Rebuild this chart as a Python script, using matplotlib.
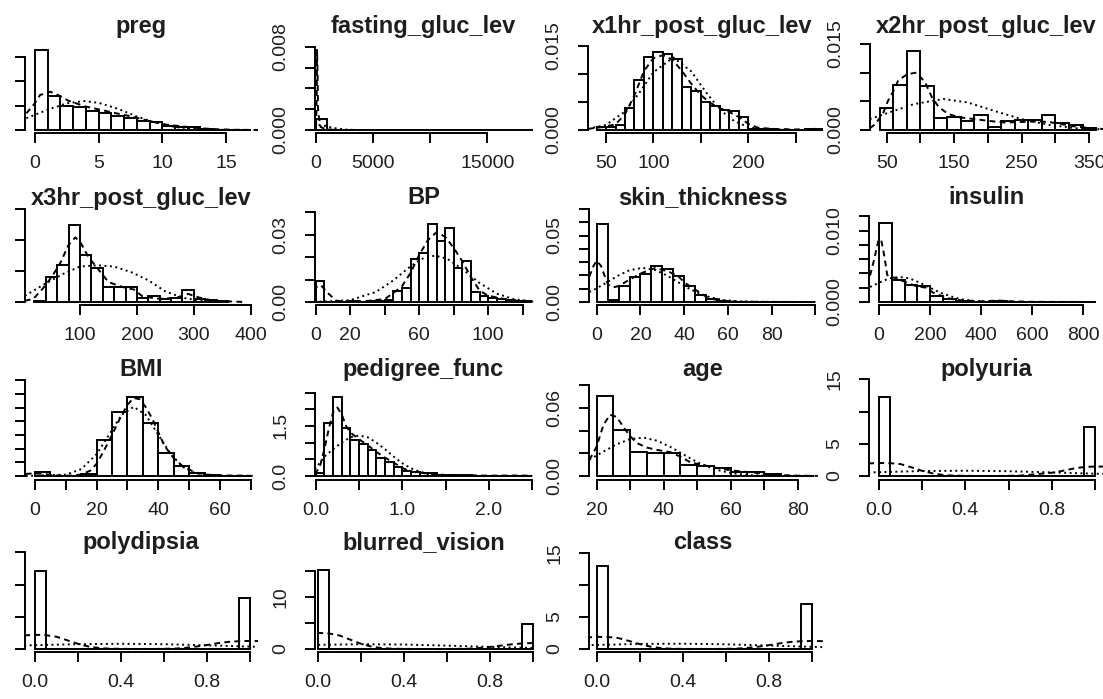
import numpy as np
import matplotlib.pyplot as plt

plt.rcParams['font.family'] = ['Liberation Sans', 'DejaVu Sans']

titles = ['preg', 'fasting_gluc_lev', 'x1hr_post_gluc_lev', 'x2hr_post_gluc_lev',
          'x3hr_post_gluc_lev', 'BP', 'skin_thickness', 'insulin',
          'BMI', 'pedigree_func', 'age', 'polyuria',
          'polydipsia', 'blurred_vision', 'class']

# histogram bars (density scale): first break, bin width, heights
preg_bins = (0, 1)
preg_hist = [0.326, 0.14, 0.098, 0.093, 0.078, 0.07, 0.059, 0.049, 0.036, 0.031,
             0.0143, 0.012, 0.013, 0.0026, 0.0013, 0, 0.0013]
fasting_bins = (0, 1000)
fasting_hist = [0.0011, 0.00003] + [0] * 17
x1hr_bins = (40, 10)
x1hr_hist = [0.0005, 0.0006, 0.0009, 0.004, 0.0089, 0.013, 0.0139, 0.0135, 0.0126, 0.0076,
             0.0069, 0.005, 0.0043, 0.0035, 0.0034, 0.0024, 0.0002, 0.0002, 0.0001, 0,
             0, 0, 0.0002, 0.0001]
x2hr_bins = (40, 20)
x2hr_hist = [0.0038, 0.0078, 0.0138, 0.0076, 0.0021, 0.0023, 0.0015, 0.0026, 0.0006, 0.0015,
             0.0017, 0.0017, 0.0026, 0.0013, 0.0009, 0.0003]
x3hr_bins = (20, 20)
x3hr_hist = [0.0001, 0.004, 0.006, 0.0124, 0.0075, 0.0054, 0.0024, 0.0024, 0.0024, 0.0006,
             0.0009, 0.0005, 0.0006, 0.002, 0.0005, 0.0003, 0.0002]
bp_bins = (0, 5)
bp_hist = [0.0092, 0, 0, 0, 0.0003, 0, 0.0005, 0.0003, 0.001, 0.005, 0.0062, 0.0191, 0.0218,
           0.0347, 0.0273, 0.0329, 0.0151, 0.0181, 0.0043, 0.0028, 0.0016, 0.0013, 0.0008,
           0.0003, 0.0005]
skin_bins = (0, 5)
skin_hist = [0.0587, 0.0018, 0.0117, 0.0187, 0.021, 0.0267, 0.0248, 0.0193, 0.0117, 0.0055,
             0.0022, 0.0008, 0, 0, 0, 0, 0, 0, 0, 0.0003]
insulin_bins = (0, 50)
insulin_hist = [0.011, 0.0031, 0.0024, 0.0022, 0.0009, 0.0004, 0.0002, 0, 0, 0.0002,
                0, 0, 0, 0, 0, 0, 0.00005]
bmi_bins = (0, 5)
bmi_hist = [0.0029, 0, 0, 0.0013, 0.0263, 0.047, 0.058, 0.039, 0.0166, 0.0073, 0.002, 0.0008,
            0, 0.0003]
pedigree_bins = (0, 0.1)
pedigree_hist = [0.1, 1.6, 2.36, 1.43, 1.08, 0.96, 0.78, 0.53, 0.43, 0.28, 0.15, 0.11, 0.08,
                 0.08, 0.03, 0.02, 0.03, 0.02, 0.01, 0, 0, 0.013, 0.013, 0.013, 0.013]
age_bins = (20, 5)
age_hist = [0.0705, 0.0405, 0.0214, 0.0206, 0.0206, 0.0097, 0.0088, 0.0068, 0.0038, 0.0035,
            0.0014, 0.0003, 0.0003]
polyuria_bins = (0, 0.05)
polyuria_hist = [12.2] + [0] * 18 + [7.56]
polydipsia_bins = (0, 0.05)
polydipsia_hist = [12.1] + [0] * 18 + [7.9]
blurred_bins = (0, 0.05)
blurred_hist = [15.2] + [0] * 18 + [4.8]
class_bins = (0, 0.05)
class_hist = [13.0] + [0] * 18 + [7.0]

# kernel density (dashed)
preg_dens = [(-0.68, 0.068), (0.0, 0.11), (0.4, 0.143), (1.2, 0.156), (2.0, 0.138), (2.6, 0.12),
             (3.9, 0.097), (5.1, 0.083), (6.4, 0.068), (7.7, 0.054), (9.0, 0.036), (10.3, 0.022),
             (11.7, 0.014), (13.0, 0.007), (14.3, 0.003), (15.6, 0.001), (17.7, 0.0)]
fasting_dens = [(-700, 0.0), (0, 0.0002), (60, 0.003), (90, 0.0077), (130, 0.006), (180, 0.002),
                (260, 0.0012), (400, 0.0003), (800, 0.0001), (1500, 0.00002), (2500, 0.0)]
x1hr_dens = [(31, 0.0002), (45, 0.0005), (60, 0.001), (70, 0.0028), (80, 0.0062), (90, 0.0105),
             (100, 0.0128), (110, 0.0133), (120, 0.0125), (130, 0.0105), (140, 0.0082),
             (150, 0.0062), (160, 0.0048), (170, 0.0039), (180, 0.0032), (190, 0.0023),
             (200, 0.0011), (210, 0.0004), (225, 0.0002), (250, 0.0001), (270, 0.0002), (285, 0.0001)]
x2hr_dens = [(25, 0.0003), (33, 0.001), (45, 0.003), (52, 0.0051), (60, 0.0068), (67, 0.0086),
             (80, 0.0097), (94, 0.01), (107, 0.0083), (117, 0.0057), (127, 0.004), (141, 0.0028),
             (158, 0.0022), (180, 0.0019), (200, 0.0016), (225, 0.0013), (250, 0.0014),
             (272, 0.0015), (290, 0.0014), (310, 0.001), (330, 0.0006), (355, 0.0003), (380, 0.0001)]
x3hr_dens = [(3, 0.0002), (18, 0.0005), (35, 0.0022), (50, 0.004), (65, 0.0062), (80, 0.0092),
             (92, 0.0104), (102, 0.0094), (115, 0.0072), (130, 0.0055), (150, 0.0032),
             (175, 0.0024), (195, 0.002), (210, 0.0009), (240, 0.0005), (270, 0.0007),
             (290, 0.0013), (310, 0.0007), (335, 0.0002), (360, 0.0001), (390, 0.0)]
bp_dens = [(-1, 0.005), (0, 0.0065), (3, 0.0075), (7, 0.004), (12, 0.0005), (20, 0.0002),
           (30, 0.0005), (40, 0.0013), (45, 0.004), (50, 0.007), (55, 0.013), (60, 0.021),
           (65, 0.0275), (70, 0.031), (75, 0.029), (80, 0.024), (85, 0.018), (90, 0.011),
           (95, 0.005), (100, 0.0028), (110, 0.0012), (120, 0.0005), (126, 0.0002)]
skin_dens = [(-3.4, 0.019), (-1.5, 0.027), (0, 0.031), (2, 0.027), (4, 0.018), (5.3, 0.013),
             (7.6, 0.011), (10, 0.012), (15, 0.0168), (20.6, 0.0218), (26.7, 0.0255),
             (32.7, 0.023), (37.3, 0.0193), (40.4, 0.0143), (45, 0.0093), (51, 0.003),
             (56, 0.0012), (60, 0.0006), (66, 0.0002), (75, 0.0001), (100, 0.0)]
insulin_dens = [(-35, 0.0037), (-20, 0.0058), (-3, 0.0085), (8, 0.0088), (21, 0.0064),
                (32, 0.0038), (45, 0.0034), (63, 0.0034), (95, 0.0029), (147, 0.0022),
                (186, 0.002), (212, 0.0013), (264, 0.0006), (300, 0.0003), (343, 0.0002),
                (400, 0.0001), (470, 0.0002), (520, 0.0001), (600, 0.00003), (850, 0.0)]
bmi_dens = [(-3, 0.0015), (0, 0.002), (3, 0.0015), (6, 0.0005), (10, 0.0001), (15, 0.001),
            (18, 0.004), (20, 0.009), (22, 0.017), (25, 0.03), (28, 0.044), (30, 0.052),
            (32, 0.057), (34, 0.056), (36, 0.05), (38, 0.042), (40, 0.032), (42, 0.022),
            (45, 0.013), (48, 0.007), (52, 0.0025), (56, 0.001), (60, 0.0004), (67, 0.0003), (72, 0.0)]
pedigree_dens = [(-0.01, 0.05), (0.05, 0.3), (0.1, 0.8), (0.15, 1.4), (0.2, 1.9), (0.25, 2.05),
                 (0.3, 1.85), (0.35, 1.5), (0.4, 1.3), (0.5, 1.1), (0.6, 0.92), (0.7, 0.72),
                 (0.8, 0.55), (0.9, 0.4), (1.0, 0.24), (1.1, 0.13), (1.2, 0.1), (1.3, 0.07),
                 (1.5, 0.03), (1.8, 0.02), (2.0, 0.01), (2.3, 0.015), (2.5, 0.01)]
age_dens = [(17.8, 0.014), (20, 0.026), (22, 0.045), (24, 0.054), (26, 0.052), (28, 0.043),
            (30, 0.035), (32, 0.029), (35, 0.025), (38, 0.023), (42, 0.021), (45, 0.017),
            (48, 0.012), (52, 0.0095), (56, 0.007), (60, 0.005), (65, 0.0035), (70, 0.002),
            (75, 0.0008), (80, 0.0003), (86, 0.0001)]
polyuria_dens = [(-0.05, 1.95), (0.0, 2.02), (0.05, 2.0), (0.1, 1.85), (0.15, 1.35), (0.2, 0.8),
                 (0.25, 0.4), (0.3, 0.15), (0.35, 0.05), (0.45, 0.01), (0.55, 0.01), (0.65, 0.06),
                 (0.7, 0.2), (0.75, 0.35), (0.8, 0.5), (0.85, 0.8), (0.9, 1.15), (0.95, 1.4),
                 (1.0, 1.47), (1.06, 1.45)]
polydipsia_dens = [(-0.05, 2.1), (0.0, 2.2), (0.05, 2.15), (0.1, 1.9), (0.15, 1.35), (0.2, 0.8),
                   (0.25, 0.38), (0.3, 0.14), (0.35, 0.05), (0.45, 0.01), (0.55, 0.01),
                   (0.65, 0.06), (0.7, 0.18), (0.75, 0.38), (0.8, 0.62), (0.85, 0.9),
                   (0.9, 1.1), (0.95, 1.22), (1.0, 1.25), (1.06, 1.22)]
blurred_dens = [(-0.05, 2.9), (0.0, 3.1), (0.05, 3.0), (0.1, 2.6), (0.15, 1.8), (0.2, 1.0),
                (0.25, 0.45), (0.3, 0.16), (0.35, 0.05), (0.45, 0.01), (0.6, 0.01), (0.7, 0.06),
                (0.75, 0.2), (0.8, 0.4), (0.85, 0.65), (0.9, 0.9), (0.95, 1.08), (1.0, 1.15),
                (1.06, 1.12)]
class_dens = [(-0.05, 1.8), (0.0, 1.9), (0.05, 1.88), (0.1, 1.7), (0.15, 1.25), (0.2, 0.75),
              (0.25, 0.36), (0.3, 0.13), (0.35, 0.04), (0.45, 0.01), (0.55, 0.01), (0.65, 0.06),
              (0.7, 0.18), (0.75, 0.36), (0.8, 0.6), (0.85, 0.88), (0.9, 1.1), (0.95, 1.22),
              (1.0, 1.25), (1.06, 1.22)]

# normal curve (dotted)
preg_norm = [(-0.68, 0.048), (1.0, 0.083), (2.5, 0.109), (3.85, 0.118), (5.0, 0.111), (6.5, 0.087),
             (8.0, 0.055), (9.5, 0.029), (11.0, 0.012), (12.5, 0.0044), (14.0, 0.0012),
             (15.5, 0.0003), (17.7, 0.0)]
fasting_norm = [(-700, 0.0003), (0, 0.0005), (150, 0.0005), (800, 0.0004), (1500, 0.0002),
                (2500, 0.00005), (3500, 0.0)]
x1hr_norm = [(31, 0.0002), (50, 0.0009), (70, 0.0033), (85, 0.0066), (100, 0.0103), (121, 0.0129),
             (140, 0.0104), (155, 0.0068), (170, 0.0036), (185, 0.0016), (200, 0.0005),
             (220, 0.0001), (250, 0.0)]
x2hr_norm = [(25, 0.0019), (60, 0.0033), (90, 0.0045), (134, 0.0054), (170, 0.0048),
             (210, 0.0033), (250, 0.0019), (290, 0.0009), (330, 0.0003), (370, 0.0001)]
x3hr_norm = [(3, 0.001), (40, 0.003), (70, 0.0045), (100, 0.0057), (130, 0.0059), (160, 0.0057),
             (190, 0.0048), (220, 0.0035), (250, 0.0017), (280, 0.0007), (310, 0.0002), (350, 0.0)]
bp_norm = [(-1, 0.00004), (20, 0.0008), (35, 0.0045), (45, 0.0096), (55, 0.0159), (62, 0.0193),
           (69, 0.0206), (76, 0.0193), (85, 0.0146), (95, 0.0084), (105, 0.0037), (115, 0.0012),
           (126, 0.0003)]
skin_norm = [(-3.4, 0.0075), (0, 0.0103), (5, 0.0151), (10, 0.02), (15, 0.0239), (21, 0.0257),
             (27, 0.0239), (32, 0.02), (37, 0.0151), (42, 0.0103), (47, 0.0063), (52, 0.0035),
             (58, 0.0015), (65, 0.0005), (75, 0.0001), (90, 0.0)]
insulin_norm = [(-35, 0.0021), (0, 0.0027), (40, 0.0033), (80, 0.0035), (120, 0.0033),
                (160, 0.0027), (200, 0.002), (240, 0.0013), (280, 0.0008), (320, 0.0004),
                (380, 0.0001), (450, 0.0)]
bmi_norm = [(-3, 0.0), (10, 0.001), (15, 0.005), (20, 0.016), (24, 0.03), (28, 0.0444),
            (32, 0.0505), (36, 0.0444), (40, 0.03), (44, 0.016), (48, 0.0065), (52, 0.002),
            (56, 0.0005), (62, 0.0)]
pedigree_norm = [(-0.01, 0.2), (0.1, 0.58), (0.2, 0.8), (0.3, 1.0), (0.4, 1.16), (0.5, 1.21),
                 (0.6, 1.16), (0.7, 1.0), (0.8, 0.8), (0.9, 0.58), (1.0, 0.38), (1.1, 0.23),
                 (1.2, 0.13), (1.3, 0.064), (1.5, 0.012), (1.7, 0.002), (2.0, 0.0)]
age_norm = [(17.8, 0.0145), (22, 0.0215), (26, 0.028), (30, 0.0326), (34, 0.0338), (38, 0.0311),
            (42, 0.0256), (46, 0.0188), (50, 0.0122), (55, 0.006), (60, 0.0026), (65, 0.0009),
            (70, 0.0003), (76, 0.0)]
polyuria_norm = [(-0.05, 0.55), (0.2, 0.77), (0.4, 0.82), (0.6, 0.74), (0.8, 0.56), (1.06, 0.3)]
polydipsia_norm = [(-0.05, 0.55), (0.2, 0.75), (0.4, 0.81), (0.6, 0.74), (0.8, 0.57), (1.06, 0.32)]
blurred_norm = [(-0.05, 0.77), (0.2, 0.92), (0.4, 0.86), (0.6, 0.65), (0.8, 0.4), (1.06, 0.15)]
class_norm = [(-0.05, 0.6), (0.2, 0.79), (0.4, 0.83), (0.6, 0.73), (0.8, 0.54), (1.06, 0.28)]

# axis ticks and which labels are printed
x_ticks = [[0, 5, 10, 15], [0, 5000, 10000, 15000], [50, 100, 150, 200, 250],
           [50, 100, 150, 200, 250, 300, 350],
           [100, 200, 300, 400], [0, 20, 40, 60, 80, 100, 120], [0, 20, 40, 60, 80, 100],
           [0, 200, 400, 600, 800],
           [0, 10, 20, 30, 40, 50, 60, 70], [0, 0.5, 1.0, 1.5, 2.0, 2.5],
           [20, 30, 40, 50, 60, 70, 80], [0, 0.2, 0.4, 0.6, 0.8, 1.0],
           [0, 0.2, 0.4, 0.6, 0.8, 1.0], [0, 0.2, 0.4, 0.6, 0.8, 1.0], [0, 0.2, 0.4, 0.6, 0.8, 1.0]]
x_labels = [['0', '5', '10', '15'], ['0', '5000', '', '15000'], ['50', '100', '', '200', ''],
            ['50', '', '150', '', '250', '', '350'],
            ['100', '200', '300', '400'], ['0', '20', '', '60', '', '100', ''],
            ['0', '20', '40', '60', '80', ''], ['0', '200', '400', '600', '800'],
            ['0', '', '20', '', '40', '', '60', ''], ['0.0', '', '1.0', '', '2.0', ''],
            ['20', '', '40', '', '60', '', '80'], ['0.0', '', '0.4', '', '0.8', ''],
            ['0.0', '', '0.4', '', '0.8', ''], ['0.0', '', '0.4', '', '0.8', ''],
            ['0.0', '', '0.4', '', '0.8', '']]
y_ticks = [[0, 0.1, 0.2, 0.3], [0, 0.002, 0.004, 0.006, 0.008], [0, 0.005, 0.01, 0.015],
           [0, 0.005, 0.01, 0.015],
           [0, 0.005, 0.01, 0.015], [0, 0.01, 0.02, 0.03, 0.04],
           [0, 0.01, 0.02, 0.03, 0.04, 0.05, 0.06, 0.07],
           [0, 0.002, 0.004, 0.006, 0.008, 0.01, 0.012],
           [0, 0.01, 0.02, 0.03, 0.04, 0.05, 0.06, 0.07], [0, 0.5, 1.0, 1.5, 2.0, 2.5],
           [0, 0.02, 0.04, 0.06, 0.08], [0, 5, 10, 15],
           [0, 5, 10, 15], [0, 5, 10, 15], [0, 5, 10, 15]]
y_labels = [['', '', '', ''], ['0.000', '', '', '', '0.008'], ['0.000', '', '', '0.015'],
            ['0.000', '', '', '0.015'],
            ['', '', '', ''], ['0.00', '', '', '0.03', ''],
            ['0.00', '', '', '', '', '0.05', '', ''],
            ['0.000', '', '', '', '', '0.010', ''],
            [''] * 8, ['0.0', '', '', '1.5', '', ''],
            ['0.00', '', '', '0.06', ''], ['0', '5', '', '15'],
            ['', '', '', ''], ['0', '', '10', ''], ['0', '5', '', '15']]

hists = [preg_hist, fasting_hist, x1hr_hist, x2hr_hist, x3hr_hist, bp_hist, skin_hist,
         insulin_hist, bmi_hist, pedigree_hist, age_hist, polyuria_hist, polydipsia_hist,
         blurred_hist, class_hist]
bins = [preg_bins, fasting_bins, x1hr_bins, x2hr_bins, x3hr_bins, bp_bins, skin_bins,
        insulin_bins, bmi_bins, pedigree_bins, age_bins, polyuria_bins, polydipsia_bins,
        blurred_bins, class_bins]
dens = [preg_dens, fasting_dens, x1hr_dens, x2hr_dens, x3hr_dens, bp_dens, skin_dens,
        insulin_dens, bmi_dens, pedigree_dens, age_dens, polyuria_dens, polydipsia_dens,
        blurred_dens, class_dens]
norms = [preg_norm, fasting_norm, x1hr_norm, x2hr_norm, x3hr_norm, bp_norm, skin_norm,
         insulin_norm, bmi_norm, pedigree_norm, age_norm, polyuria_norm, polydipsia_norm,
         blurred_norm, class_norm]

# ---- layout in pixels ----
W, H = 1103, 699
# per panel: y-axis x, right edge, pixel of x=0, px per x unit, px per y unit
layout = [(25, 258, 35, 12.73, 245), (315, 535, 316, 0.01142, 10400),
          (588, 823, 558.6, 0.9487, 5620), (870, 1103, 852.9, 0.6753, 5740),
          (25, 258, 23.1, 0.5689, 6220), (315, 535, 315.7, 1.726, 2250),
          (589, 823, 596.7, 2.1875, 1330), (869, 1103, 879, 0.2554, 7150),
          (25, 258, 35, 3.083, 1370), (315, 535, 315.7, 86.65, 33.4),
          (589, 823, 529.7, 3.35, 1135), (869, 1103, 879, 215.9, 6.44),
          (25, 258, 35, 215.0, 6.45), (315, 535, 318, 215.0, 5.2),
          (589, 823, 597, 215.0, 6.4)]
# per row: baseline (y=0), plot top, gap to x axis, title baseline
rows = [(130, 42, 3, 32.5), (302, 206, 3, 204.5), (476, 377, 4, 376), (649, 550, 3, 549)]
title_x = [141, 423.5, 702.5, 986]

fig = plt.figure(figsize=(W / 100, H / 100), dpi=100)
ink = '#1e1e1e'

for i, name in enumerate(titles):
    L, R, x0, kx, ky = layout[i]
    base, top, gap, tbase = rows[i // 4]
    bottom = base + gap
    ax = fig.add_axes([L / W, 1 - bottom / H, (R - L) / W, (bottom - top) / H])
    ax.set_xlim((L - x0) / kx, (R - x0) / kx)
    ax.set_ylim(-gap / ky, (base - top) / ky)
    ax.patch.set_alpha(0)

    start, width = bins[i]
    h = hists[i]
    edges = start + width * np.arange(len(h))
    ax.bar(edges, h, width=width, align='edge', facecolor='white',
           edgecolor='black', linewidth=1.4)
    dx, dy = zip(*dens[i])
    ax.plot(dx, dy, color='black', lw=1.4, ls=(0, (3, 2.2)))
    nx, ny = zip(*norms[i])
    ax.plot(nx, ny, color='black', lw=1.4, ls=(0, (1, 1.8)))

    for s in ['top', 'right']:
        ax.spines[s].set_visible(False)
    ax.spines['left'].set_bounds(y_ticks[i][0], y_ticks[i][-1])
    ax.spines['bottom'].set_bounds(x_ticks[i][0], x_ticks[i][-1])
    for s in ['left', 'bottom']:
        ax.spines[s].set_linewidth(1.4)
        ax.spines[s].set_color('black')
    ax.set_xticks(x_ticks[i], x_labels[i])
    ax.set_yticks(y_ticks[i], y_labels[i])
    ax.tick_params(axis='both', direction='out', length=7.5, width=1.4, color='black',
                   labelsize=14, labelcolor=ink)
    ax.tick_params(axis='x', pad=8)
    ax.tick_params(axis='y', pad=11, labelrotation=90)
    for lab in ax.get_yticklabels():
        lab.set_verticalalignment('center')

    fig.text(title_x[i % 4] / W, 1 - tbase / H, name, ha='center', va='baseline',
             fontsize=17, fontweight='bold', color=ink)

fig.savefig('out.png', dpi=100)
